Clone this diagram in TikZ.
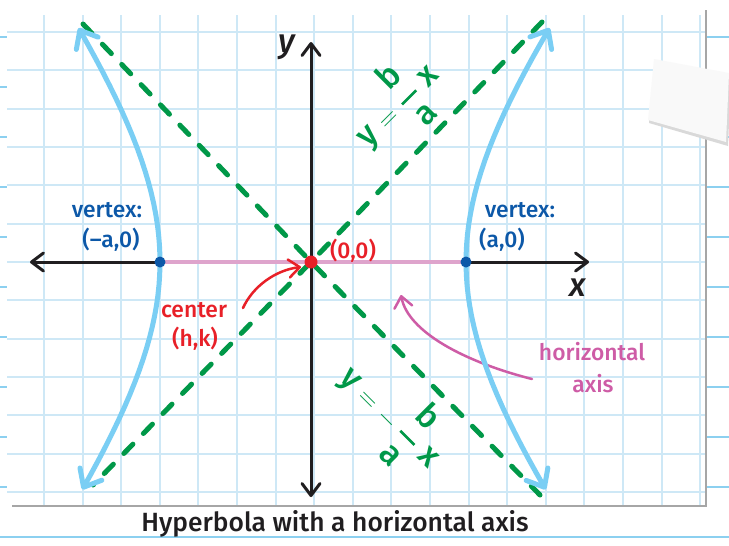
\documentclass[tikz,border=0pt]{standalone}
\usepackage{amsmath}
\usepackage{fontspec}
\setmainfont{Fira Sans Medium}
\usetikzlibrary{arrows.meta,positioning}
\definecolor{gridblue}{RGB}{206,232,246}
\definecolor{sheetblue}{RGB}{140,208,240}
\definecolor{curveblue}{RGB}{122,206,244}
\definecolor{asymgreen}{RGB}{0,152,72}
\definecolor{vertblue}{RGB}{12,88,168}
\definecolor{ctrred}{RGB}{232,32,40}
\definecolor{axispink}{RGB}{222,164,204}
\definecolor{lblpink}{RGB}{206,92,166}
\definecolor{inkblack}{RGB}{32,30,32}
\newcommand{\slopefrac}[2]{\genfrac{}{}{1.5pt}{0}{\raisebox{3pt}{#1}}{\raisebox{-3pt}{#2}}}

\begin{document}
\begin{tikzpicture}[
  x=0.02cm, y=-0.02cm,
  font=\fontsize{13}{15}\selectfont,
  sheet/.style={sheetblue, line width=0.035cm},
  gridline/.style={gridblue, line width=0.04cm},
  axis/.style={inkblack, line width=0.06cm, line cap=round},
  axtip/.style={-{Straight Barb[round,length=0.24cm,width=0.36cm]}},
  axtips/.style={{Straight Barb[round,length=0.24cm,width=0.36cm]}-{Straight Barb[round,length=0.24cm,width=0.36cm]}},
  asym/.style={asymgreen, line width=0.1cm, line cap=round,
               dash pattern=on 0.26cm off 0.3cm},
  branch/.style={curveblue, line width=0.1cm, line cap=round,
     {Straight Barb[round,length=0.3cm,width=0.5cm]}-{Straight Barb[round,length=0.3cm,width=0.5cm]}},
  pinkaxis/.style={axispink, line width=0.08cm},
  pointer/.style={line width=0.05cm, line cap=round,
                  -{Straight Barb[round,length=0.22cm,width=0.36cm]}},
  dot/.style={circle, inner sep=0pt, minimum size=0.22cm},
  lbl/.style={inner sep=0pt, align=center},
  eq/.style={lbl, asymgreen, font=\fontsize{19}{19}\selectfont},
  axlbl/.style={lbl, inkblack, font=\fontsize{19}{19}\selectfont\itshape}
]
\useasboundingbox (0,0) rectangle (729,545);
\fill[white] (0,0) rectangle (729,545);

\foreach \k in {0,...,10}
  \draw[sheet] (0,37+50*\k) -- (729,37+50*\k);

\fill[white] (7,13) rectangle (706,506);
\foreach \k in {0,...,17}
  \draw[gridline] (44+38.6*\k,15) -- (44+38.6*\k,505);
\foreach \k in {0,...,12}
  \draw[gridline] (7,32+38.33*\k) -- (705,32+38.33*\k);
\draw[gray!70, line width=0.03cm] (12,506) -- (706,506) -- (706,10);

\fill[gray!30] (655,62) -- (731,76) -- (728,146) -- (649,123) -- cycle;
\fill[gray!5] (654,59) -- (729,73) -- (726,142) -- (648,120) -- cycle;

\coordinate (O) at (311,262);
\coordinate (vl) at (160,262);
\coordinate (vr) at (466,262);
\coordinate (xl) at (30,262);
\coordinate (xr) at (589,262);
\coordinate (yt) at (311,42);
\coordinate (yb) at (311,497);
\coordinate (a1) at (83,24);
\coordinate (a2) at (540,495);
\coordinate (b1) at (542,22);
\coordinate (b2) at (93,485);

\draw[pinkaxis] (vl) -- (vr);
\draw[axis,axtip] (vl) -- (xl);
\draw[axis,axtip] (vr) -- (xr);
\draw[axis,axtips] (yb) -- (yt);

\draw[asym] (a1) -- (O) -- (a2);
\draw[asym] (b1) -- (O) -- (b2);

\coordinate (pinktail) at (532,379);
\coordinate (pinkhead) at (401,295);
\draw[pointer,lblpink] (pinktail) .. controls (465,362) and (408,332) .. (pinkhead);

\draw[branch] plot[domain=-0.975:0.997,samples=40,variable=\t]
  ({311-151*cosh(\t)},{262-200*sinh(\t)});
\draw[branch] plot[domain=-0.975:0.997,samples=40,variable=\t]
  ({311+155*cosh(\t)},{262-200*sinh(\t)});

\coordinate (redtail) at (243,308);
\coordinate (redhead) at (301,267);
\draw[pointer,ctrred] (redtail) .. controls (253,286) and (276,270) .. (redhead);

\node[dot,fill=vertblue] (vldot) at (vl) {};
\node[dot,fill=vertblue] (vrdot) at (vr) {};
\node[dot,fill=ctrred,minimum size=0.26cm] (ctr) at (O) {};

\node[axlbl] (ylab) at (287,47) {y};
\node[axlbl] (xlab) at (578,288) {x};

\node[lbl,vertblue] (vltxt) at (107,210) {vertex:};
\node[lbl,vertblue] (vlpt) at (111,240) {(–a,0)};
\node[lbl,vertblue] (vrtxt) at (520,210) {vertex:};
\node[lbl,vertblue] (vrpt) at (502,240) {(a,0)};
\node[lbl,ctrred] (otxt) at (353,251) {(0,0)};
\node[lbl,ctrred] (ctrtxt) at (194,310) {center};
\node[lbl,ctrred] (hktxt) at (195,339) {(h,k)};
\node[lbl,lblpink] (haxtxt) at (592,352) {horizontal};
\node[lbl,lblpink] (axtxt) at (593,384) {axis};

\node[eq,rotate=45] (eqpos) at (396,104)
  {$\text{y}\;{\scriptstyle=}\;\slopefrac{b}{a}\;\text{x}$};
\node[eq,rotate=-45] (eqneg) at (392,416)
  {$\text{y}\;{\scriptstyle=}\;{\scriptstyle-}\,\slopefrac{b}{a}\;\text{x}$};

\node[lbl,inkblack,font=\fontsize{15}{18}\selectfont] (caption) at (335,524)
  {Hyperbola with a horizontal axis};
\end{tikzpicture}
\end{document}
